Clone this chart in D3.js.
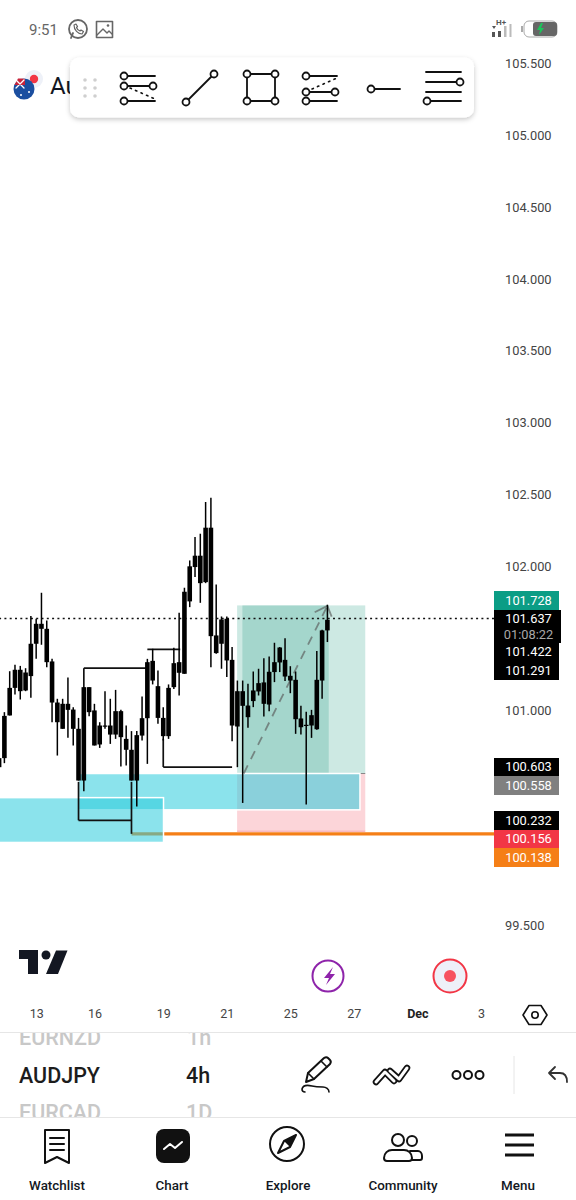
<!DOCTYPE html>
<html>
<head>
<meta charset="utf-8">
<script src="https://cdn.jsdelivr.net/npm/d3@7"></script>
<style>
  html, body { margin: 0; padding: 0; background: #fff; overflow: hidden; }
  text { font-family: Roboto, sans-serif; }
</style>
</head>
<body>
<script>
var w = 576;
var h = 1200;

// candles, oldest first (all candles are drawn black)
var highs = [100.665,100.985,101.270,101.315,101.307,101.291,101.654,101.635,101.816,101.623,101.356,101.078,101.078,101.226,101.020,100.945,101.159,101.159,101.043,100.915,101.131,101.078,101.140,101.001,100.892,100.853,100.853,101.094,101.356,101.426,101.275,101.020,101.178,101.433,101.677,101.851,102.041,102.204,102.227,102.448,102.478,101.874,101.651,101.651,101.438,101.205,101.205,101.182,101.268,101.287,101.361,101.373,101.468,101.438,101.500,101.305,101.268,101.029,100.987,101.001,101.410,101.558,101.733];
var lows = [100.544,100.630,100.962,101.108,101.073,101.131,101.085,101.356,101.454,101.298,100.915,100.683,100.869,100.806,100.753,100.509,100.435,100.957,100.753,100.736,100.869,100.764,100.799,100.606,100.613,100.509,100.328,100.788,100.625,101.178,100.904,100.788,100.799,101.147,101.101,101.252,101.716,101.925,101.746,101.883,101.298,101.391,101.287,101.229,100.783,100.602,100.353,100.876,101.020,101.101,100.955,100.992,101.194,101.264,101.201,101.117,100.834,100.829,100.342,100.806,100.862,101.078,101.473];
var bodyTops = [100.665,100.959,101.154,101.280,101.280,101.261,101.461,101.600,101.600,101.565,101.338,101.052,101.043,101.043,101.003,100.869,101.159,101.159,100.997,100.892,100.892,100.892,100.992,100.992,100.799,100.723,100.825,100.943,101.333,101.342,101.166,100.945,101.154,101.326,101.333,101.823,102.000,102.074,102.074,102.269,102.269,101.519,101.630,101.635,101.349,101.131,101.131,101.031,101.136,101.187,101.192,101.266,101.333,101.435,101.349,101.238,101.210,100.941,100.897,100.964,101.210,101.554,101.628];
var bodyBottoms = [100.602,100.665,100.962,101.154,101.131,101.136,101.236,101.461,101.565,101.333,101.052,100.915,100.869,101.001,100.869,100.509,100.509,100.985,100.753,100.760,100.887,100.829,100.829,100.811,100.723,100.509,100.509,100.822,100.943,101.205,100.945,100.818,100.818,101.159,101.259,101.252,101.756,101.995,101.883,101.890,101.514,101.396,101.461,101.345,100.892,100.885,101.029,100.950,101.062,101.129,101.043,101.038,101.264,101.331,101.233,101.205,100.936,100.880,100.892,100.892,100.866,101.205,101.554];

// price axis and time axis
var priceTicks = [105.5,105,104.5,104,103.5,103,102.5,102,101,99.5];
var timeTickIndex = [7,18,31,43,55,67,79,91];
var timeTickLabels = ["13","16","19","21","25","27","Dec","3"];

// tags on the price axis: value, fill, centre of the tag text
var tagLabels = ["101.728","101.637","01:08:22","101.422","101.291","100.603","100.558","100.232","100.156","100.138"];
var tagFills = ["#0b9d85","#000000","#000000","#000000","#000000","#000000","#808080","#000000","#f23645","#f57f17"];
var tagTops = [591,610,627,643,661,758,776,811,830,848];
var tagBottoms = [610,627,643,661,680,776,795,830,848,867];

// levels of the drawings
var lastPrice = 101.637, targetPrice = 101.728, entryPrice = 100.558, stopPrice = 100.156, orangePrice = 100.138;

var xScale = d3.scaleLinear().domain([0, 62]).range([-0.9, 327.4]);
var yScale = d3.scaleLinear().domain([99.5, 105.5]).range([925.5, 63.5]);

var svg = d3.select("body").append("svg")
    .attr("width", w).attr("height", h)
    .style("display", "block");

function band(x0, x1, p0, p1, fill) {
  return svg.append("rect")
    .attr("x", xScale(x0)).attr("width", xScale(x1) - xScale(x0))
    .attr("y", yScale(p0)).attr("height", yScale(p1) - yScale(p0))
    .attr("fill", fill);
}

function seg(x0, p0, x1, p1, color, width) {
  return svg.append("line")
    .attr("x1", xScale(x0)).attr("y1", yScale(p0))
    .attr("x2", xScale(x1)).attr("y2", yScale(p1))
    .attr("stroke", color).attr("stroke-width", width);
}

// long position drawing
band(44.95, 69.15, targetPrice, entryPrice, "#cde9e3");
band(44.95, 69.15, entryPrice, stopPrice, "#fcd5d9");
band(45.95, 62.25, targetPrice, entryPrice, "rgba(0,140,115,0.2)");
seg(44.95, stopPrice, 69.15, stopPrice, "#f9b9bf", 1.5);
seg(62.25, entryPrice, 69.15, entryPrice, "#888", 1);

// orange level, passes under the cyan box
seg(25, orangePrice, 93.5, orangePrice, "#f57f17", 3.2);

// cyan zones
band(15, 68.15, entryPrice, 100.305, "rgba(44,204,220,0.55)")
  .attr("stroke", "#fff").attr("stroke-width", 1.5);
band(-5, 31.05, 100.390, 100.078, "rgba(44,204,220,0.55)")
  .attr("stroke", "#fff").attr("stroke-width", 1.5);

// dotted last price line
seg(-1, lastPrice, 93.5, lastPrice, "#111", 1.6).attr("stroke-dasharray", "2 3.3");

// dashed trend arrow
seg(46.2, entryPrice, 62, 101.725, "rgba(90,90,90,0.65)", 1.8).attr("stroke-dasharray", "9 7");
seg(62, 101.725, 59.6, 101.68, "rgba(90,90,90,0.65)", 1.8);
seg(62, 101.725, 62.8, 101.65, "rgba(90,90,90,0.65)", 1.8);

// connector lines
var connectors = [
  [16, 101.1, 16, 101.291], [16, 101.291, 28, 101.291],
  [28, 101.422, 34.2, 101.422],
  [31, 100.8, 31, 100.603], [31, 100.603, 44, 100.603],
  [15, 100.5, 15, 100.232], [15, 100.232, 25, 100.232],
  [25, 100.5, 25, orangePrice]
];
connectors.forEach(function(c) { seg(c[0], c[1], c[2], c[3], "#111", 1.7); });

// candles
svg.append("g").selectAll("line")
   .data(highs)
   .enter()
   .append("line")
   .attr("x1", function(d, i) { return xScale(i); })
   .attr("x2", function(d, i) { return xScale(i); })
   .attr("y1", function(d) { return yScale(d); })
   .attr("y2", function(d, i) { return yScale(lows[i]); })
   .attr("stroke", "#000")
   .attr("stroke-width", 1.5);

svg.append("g").selectAll("rect")
   .data(bodyTops)
   .enter()
   .append("rect")
   .attr("x", function(d, i) { return xScale(i) - 2.3; })
   .attr("width", 4.6)
   .attr("y", function(d) { return yScale(d); })
   .attr("height", function(d, i) { return Math.max(1.2, yScale(bodyBottoms[i]) - yScale(d)); })
   .attr("fill", "#000");

// price axis
var yAxis = d3.axisRight(yScale)
    .tickValues(priceTicks)
    .tickSize(0)
    .tickFormat(d3.format(".3f"));
var yG = svg.append("g")
    .attr("transform", "translate(505,0)")
    .call(yAxis);
yG.select(".domain").remove();
yG.selectAll("text").attr("x", 0).attr("font-size", 12.8).attr("fill", "#444").style("font-family", "Roboto");

// tags
tagLabels.forEach(function(t, i) {
  svg.append("rect")
    .attr("x", 494).attr("y", tagTops[i])
    .attr("width", i >= 1 && i <= 2 ? 67 : 65)
    .attr("height", tagBottoms[i] - tagTops[i])
    .attr("fill", tagFills[i]);
  svg.append("text")
    .attr("x", 528.5).attr("y", (tagTops[i] + tagBottoms[i]) / 2 + 4.4)
    .attr("text-anchor", "middle").attr("font-size", 12.8)
    .attr("fill", t == "01:08:22" ? "#a8a8a8" : "#fff")
    .text(t);
});

// time axis
var xAxis = d3.axisBottom(xScale)
    .tickValues(timeTickIndex)
    .tickSize(0)
    .tickFormat(function(d, i) { return timeTickLabels[i]; });
var xG = svg.append("g")
    .attr("transform", "translate(0,1008.500)")
    .call(xAxis);
xG.select(".domain").remove();
xG.selectAll("text").attr("y", 0).attr("dy", "0.75em").attr("font-size", 12.5).attr("fill", "#444").style("font-family", "Roboto");
xG.selectAll("text").filter(function(d, i) { return timeTickLabels[i] == "Dec"; })
  .attr("font-weight", 700).attr("fill", "#222");

// ---- app chrome around the chart ----
function txt(x, y, s, size, fill, weight, anchor) {
  return svg.append("text").attr("x", x).attr("y", y).text(s)
    .attr("font-size", size).attr("fill", fill)
    .attr("font-weight", weight || 400).attr("text-anchor", anchor || "start");
}
function path(d, stroke, width, fill) {
  return svg.append("path").attr("d", d)
    .attr("stroke", stroke || "none").attr("stroke-width", width || 0)
    .attr("fill", fill || "none")
    .attr("stroke-linecap", "round").attr("stroke-linejoin", "round");
}
function circ(x, y, r, stroke, width, fill) {
  return svg.append("circle").attr("cx", x).attr("cy", y).attr("r", r)
    .attr("stroke", stroke || "none").attr("stroke-width", width || 0)
    .attr("fill", fill || "#fff");
}

// status bar
txt(29, 35, "9:51", 15, "#666");
circ(78, 29, 9, "#666", 1.8, "#fff");
path("M71 38l2-5", "#666", 1.8);
path("M74 25c0 5 4 9 8 9l1.5-2.5-2.5-1.5-1 1c-1.5-.5-3-2-3.5-3.5l1-1-1.5-2.5z", "#666", 1.2);
path("M96.5 21.5h16v16h-16z", "#666", 1.6);
path("M97 35l6-6 4 4 2-2 3 3", "#666", 1.4);
circ(108, 25.5, 1.3, "none", 0, "#666");
svg.append("g").selectAll("rect")
   .data([[492,32,3,5],[498,31,3,6],[504,26,2.500,11],[509.500,24,2,13]])
   .enter().append("rect")
   .attr("x", function(d) { return d[0]; }).attr("y", function(d) { return d[1]; })
   .attr("width", function(d) { return d[2]; }).attr("height", function(d) { return d[3]; })
   .attr("fill", function(d, i) { return i < 2 ? "#555" : "#bbb"; });
path("M492 26h4l-2 3z", "none", 0, "#555");
txt(496, 25, "H+", 8, "#555", 700);
svg.append("rect").attr("x", 524).attr("y", 21).attr("width", 33).attr("height", 16).attr("rx", 5)
   .attr("fill", "#fff").attr("stroke", "#aaa").attr("stroke-width", 1);
svg.append("rect").attr("x", 533).attr("y", 22).attr("width", 24).attr("height", 14).attr("rx", 3).attr("fill", "#666");
svg.append("rect").attr("x", 521).attr("y", 26).attr("width", 2).attr("height", 6).attr("fill", "#aaa");
path("M541 23l-4 7h3l-1 5 5-7h-3l2-5z", "none", 0, "#1cc45a");

// symbol header behind toolbar
circ(34, 79, 9, "none", 0, "#eef1f8");
circ(34, 79, 4.2, "none", 0, "#f23645");
circ(24, 89, 10.5, "none", 0, "#1b4fa0");
path("M14.500 85h10.500v-6l-3-.5h-4z", "none", 0, "#c8233a");
path("M16 80l8 8M24 80l-8 8", "#fff", 1.3);
circ(29, 92, 1, "none", 0, "#fff");
circ(21, 95, 1, "none", 0, "#fff");
txt(50, 94, "Au", 24, "#131722");

// drawing toolbar
var defs = svg.append("defs");
var fl = defs.append("filter").attr("id", "sh").attr("x", "-5%").attr("y", "-20%").attr("width", "110%").attr("height", "150%");
fl.append("feDropShadow").attr("dx", 0).attr("dy", 2).attr("stdDeviation", 2.5).attr("flood-color", "#000").attr("flood-opacity", 0.22);
svg.append("rect").attr("x", 70).attr("y", 57.5).attr("width", 404).attr("height", 60).attr("rx", 9)
   .attr("fill", "#fff").attr("filter", "url(#sh)");
[85, 95].forEach(function(x) {
  [80, 88, 96].forEach(function(y) { circ(x, y, 1.8, "none", 0, "#cfcfcf"); });
});
var ink = "#111";
function knob(x, y) { circ(x, y, 3.5, ink, 1.8, "#fff"); }
path("M124 76h31M124 86h29M124 101h31", ink, 1.8);
path("M130 88l25 11", ink, 1.6).attr("stroke-dasharray", "1.5 4.5");
knob(124, 76); knob(124, 86); knob(153, 86); knob(124, 101);
path("M186 102L214 74", ink, 1.8);
knob(186, 102); knob(214, 74);
path("M247 74H275V101H247Z", ink, 1.8);
knob(247, 74); knob(275, 74); knob(247, 101); knob(275, 101);
path("M306 76h31M306 92h29M306 101h31", ink, 1.8);
path("M312 89l25-11", ink, 1.6).attr("stroke-dasharray", "1.5 4.5");
knob(306, 76); knob(306, 92); knob(335, 92); knob(306, 101);
path("M371 89h29", ink, 1.8);
knob(371, 89);
path("M426 72h35M426 82h34M426 92h35M426 101h35", ink, 1.8);
knob(460, 82); knob(427, 101);

// TV logo
path("M19 950h19v24h-10v-15h-9z", "none", 0, "#131722");
circ(46, 955, 4.5, "none", 0, "#131722");
path("M56 950.5h11.5l-9.5 23.5h-12z", "none", 0, "#131722");

// lightning and record buttons
circ(328, 976, 15.5, "#8e24aa", 2, "#fff");
path("M333 967l-9 11h5l-3 7 9-11h-5z", "none", 0, "#8e24aa");
circ(450, 976, 16.5, "#f23645", 2, "#eef0f8");
circ(450, 976, 6, "none", 0, "#f7525f");

// settings hexagon
path("M529 1005.5h12l6 9.5-6 9.5h-12l-6-9.5z", ink, 1.6);
circ(535, 1015, 3.2, ink, 1.6, "#fff");

// scroller
var clip1 = defs.append("clipPath").attr("id", "scr");
clip1.append("rect").attr("x", 0).attr("y", 1033).attr("width", w).attr("height", 84);
var scr = svg.append("g").attr("clip-path", "url(#scr)");
function stxt(x, y, s, fill, weight) {
  scr.append("text").attr("x", x).attr("y", y).text(s).attr("font-size", 21.5)
     .attr("fill", fill).attr("font-weight", weight);
}
stxt(19, 1045, "EURNZD", "#c8c8c8", 500);
stxt(187, 1045, "1h", "#c8c8c8", 500);
stxt(19, 1082.500, "AUDJPY", "#1c1c1c", 500);
stxt(186, 1082.500, "4h", "#1c1c1c", 500);
stxt(19, 1120, "EURCAD", "#c8c8c8", 500);
stxt(186, 1120, "1D", "#c8c8c8", 500);
svg.append("line").attr("x1", 0).attr("x2", w).attr("y1", 1032.5).attr("y2", 1032.5).attr("stroke", "#e6e6e6");
svg.append("line").attr("x1", 0).attr("x2", w).attr("y1", 1117.5).attr("y2", 1117.5).attr("stroke", "#e6e6e6");
svg.append("line").attr("x1", 514).attr("x2", 514).attr("y1", 1056).attr("y2", 1094).attr("stroke", "#e6e6e6");

// pencil
path("M306 1082l2-9 16-15c1.500-1 3-1 4 0l2 2c1 1 1 2.500 0 4l-16 15z", ink, 2);
path("M321 1061l6 6M308 1073l6 6", ink, 1.6);
path("M302 1089c1-4 6-4 10-3 4 1 8 1 11 1 3 0 6 2 6 5M302 1089c0 2 1 3 3 3", ink, 1.6);
// double chevron
path("M376 1082l9-10 9 9", ink, 6.5);
path("M390 1071l9 8 8-11", ink, 6.5);
path("M376 1082l9-10 9 9", "#fff", 3);
path("M390 1071l9 8 8-11", "#fff", 3);
// dots
circ(456.5, 1075, 4, ink, 2, "#fff");
circ(468, 1075, 4, ink, 2, "#fff");
circ(479.5, 1075, 4, ink, 2, "#fff");
// undo
path("M555 1067l-6 6 6 6M549 1073h11c4 0 7 3 7 9", "#333", 1.8);

// bottom nav
var navLabels = ["Watchlist","Chart","Explore","Community","Menu"];
var navX = [57,172,288,403,518];
navLabels.forEach(function(t, i) {
  txt(navX[i], 1190, t, 13.4, "#131722", 500, "middle");
});
path("M45 1130h24v33l-12-6-12 6z", ink, 2);
path("M50 1138h14M50 1144h14M50 1150h14", ink, 2);
svg.append("rect").attr("x", 156).attr("y", 1129).attr("width", 34).attr("height", 34).attr("rx", 8).attr("fill", "#111");
path("M164 1149l6-5 5 4 7-6", "#fff", 2);
circ(287, 1144, 17, ink, 2, "#fff");
path("M296 1135l-12 6-6 12 12-6z", ink, 2);
path("M296 1135l-12 6 6 6z", "none", 0, ink);
circ(398, 1140, 6, ink, 2, "#fff");
circ(412, 1141, 5, ink, 2, "#fff");
path("M410 1151h8c2 0 4 2 4 5v2c0 1-1 2-2 2h-10", ink, 2);
path("M387 1161c-2 0-3-1-3-3 0-5 4-8 8-8h12c4 0 8 3 8 8 0 2-1 3-3 3z", ink, 2, "#fff");
path("M505 1135h29M505 1145h29M505 1155h29", ink, 3).attr("stroke-linecap", "butt");
</script>
</body>
</html>
